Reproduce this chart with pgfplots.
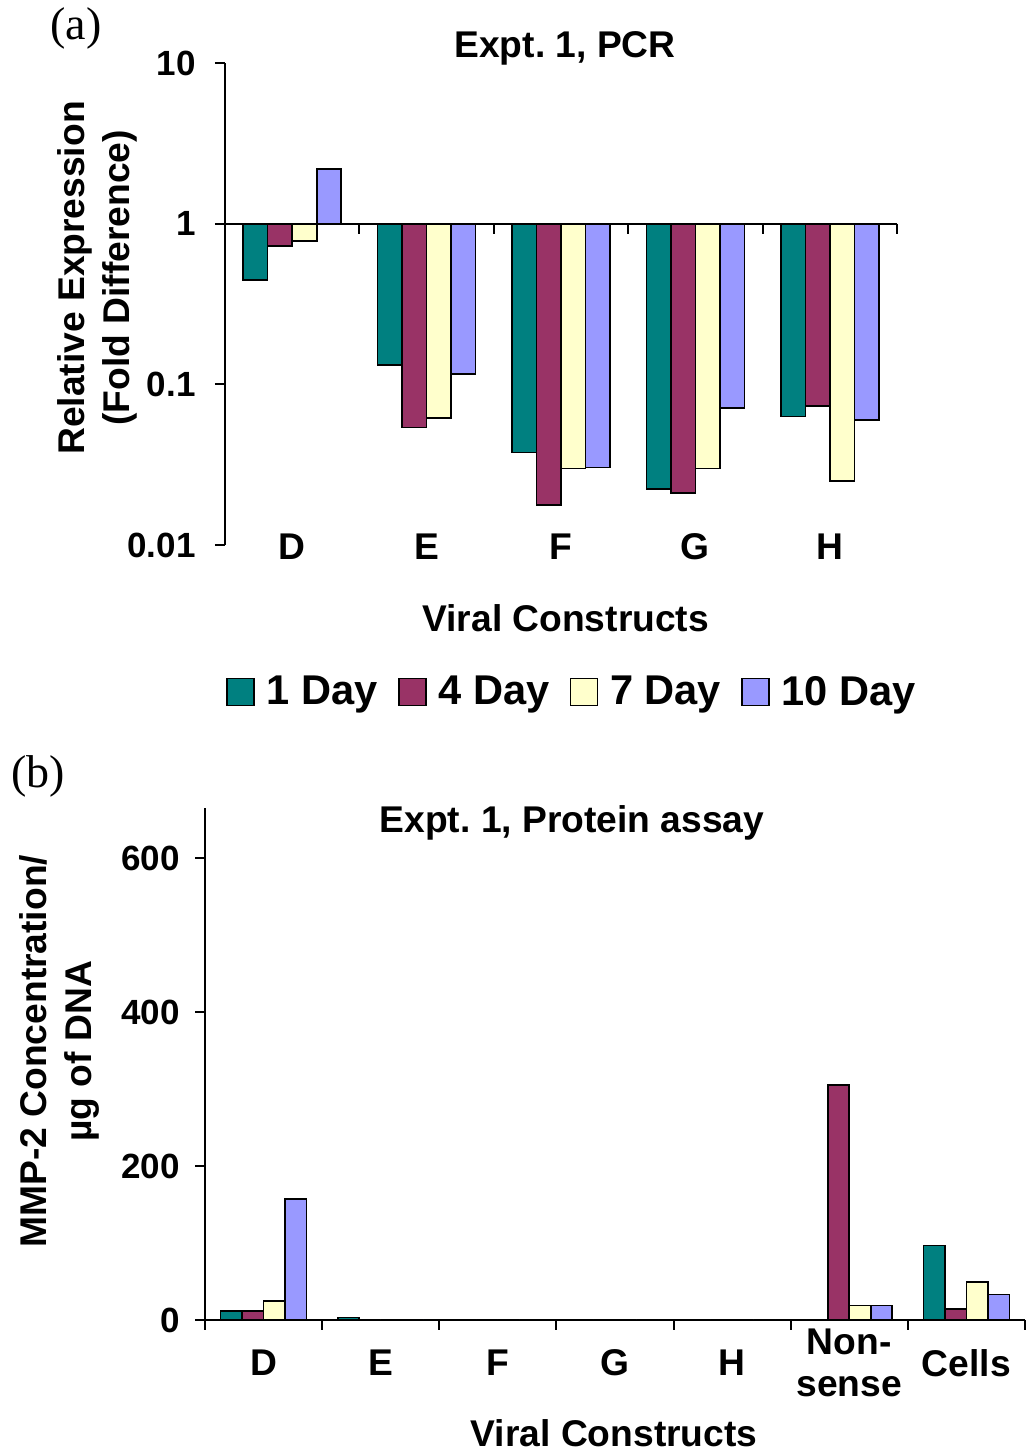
\documentclass[border=0pt]{standalone}
\usepackage{fontspec}
\setmainfont{Liberation Sans}
\newfontfamily\seriffont{Liberation Serif}
\usepackage{pgfplots}
\pgfplotsset{compat=1.18}
\definecolor{cA}{RGB}{0,128,128}
\definecolor{cB}{RGB}{153,51,102}
\definecolor{cC}{RGB}{255,255,204}
\definecolor{cD}{RGB}{153,153,255}
\newcommand\fa{\fontsize{18.6}{22.5}\selectfont\bfseries}
\newcommand\ft{\fontsize{17.5}{20}\selectfont\bfseries}
\pgfplotsset{
  sq/.style={fill=#1, draw=black, line width=0.8pt,
    legend image code/.code={\draw[fill=#1, draw=black, line width=0.8pt] (0pt,-6.75pt) rectangle (13.5pt,6.75pt);}},
  common/.style={
    scale only axis, ybar=0pt, clip=false,
    axis y line=left, axis x line=bottom,
    axis line style={-, line width=1pt},
    tick align=outside, major tick length=5pt, minor tick length=0pt,
    y tick style={black, line width=1pt}, x tick style={draw=none},
    tick label style={font=\ft, inner sep=0pt},
    yticklabel style={anchor=east, xshift=-9.5pt},
    xticklabel style={font=\fa, anchor=center, align=center},
    title style={font=\fa, anchor=center, yshift=-7.5pt},
    xlabel style={font=\fa, anchor=center},
    ylabel style={font=\fa, anchor=center, align=center},
  }
}
\begin{document}
\begin{tikzpicture}[x=1pt,y=1pt]
\path[use as bounding box] (0,0) rectangle (512.5,726);
\node[font=\seriffont\fontsize{23}{23}\selectfont] at (38,712) {(a)};
\node[font=\seriffont\fontsize{23}{23}\selectfont] at (19,338) {(b)};

% Panel (a)
\begin{axis}[common,
  at={(112.5pt,453.5pt)}, anchor=south west,
  width=336pt, height=241pt,
  ymode=log, ymin=0.01, ymax=10, xmin=-0.5, xmax=4.5,
  bar width=12.25pt,
  x axis line style={draw=none},
  xtick={0,1,2,3,4}, xticklabels={D,E,F,G,H},
  xticklabel style={yshift=4.25pt},
  ytick={0.01,0.1,1,10}, yticklabels={0.01,0.1,1,10},
  title={Expt.\ 1, PCR}, title style={at={(axis description cs:0.506,1.037)}},
  xlabel={Viral Constructs}, xlabel style={at={(axis description cs:0.507,-0.151)}},
  ylabel={Relative Expression\\(Fold Difference)},
  ylabel style={at={(axis description cs:-0.1905,0.554)}},
  legend columns=4,
  legend style={at={(axis description cs:0.518,-0.305)}, anchor=center, draw=none,
    font=\fontsize{20.8}{24}\selectfont\bfseries, column sep=0pt,
    /tikz/every odd column/.append style={column sep=4pt},
    /tikz/every even column/.append style={column sep=8pt}},
]
\addplot[sq=cA] coordinates {(0,0.446) (1,0.1315) (2,0.0376) (3,0.0224) (4,0.0630)};
\addplot[sq=cB] coordinates {(0,0.726) (1,0.0538) (2,0.0177) (3,0.0210) (4,0.0731)};
\addplot[sq=cC] coordinates {(0,0.780) (1,0.0615) (2,0.0299) (3,0.0299) (4,0.0250)};
\addplot[sq=cD] coordinates {(0,2.18) (1,0.1156) (2,0.0303) (3,0.0713) (4,0.0598)};
\legend{1 Day,4 Day,7 Day,10 Day}
\draw[line width=1pt] (axis cs:-0.5,1) -- (axis cs:4.5,1);
\pgfplotsinvokeforeach{0.5,1.5,2.5,3.5,4.5}{\draw[line width=1pt] (axis cs:#1,1) -- ++(0pt,-5pt);}
\end{axis}

% Panel (b)
\begin{axis}[common,
  at={(102.5pt,66pt)}, anchor=south west,
  width=410pt, height=256pt,
  ymin=0, ymax=665, xmin=-0.5, xmax=6.5,
  bar width=10.75pt,
  xtick={0,1,2,3,4,5,6}, xticklabels={D,E,F,G,H,{Non-\\sense},Cells},
  xticklabel style={yshift=-16.5pt, font=\fontsize{18.6}{21}\selectfont\bfseries},
  ytick={0,200,400,600}, yticklabels={0,200,400,600},
  yticklabel style={xshift=2pt},
  title={Expt.\ 1, Protein assay}, title style={at={(axis description cs:0.4476,0.977)}},
  xlabel={Viral Constructs}, xlabel style={at={(axis description cs:0.499,-0.2205)}},
  ylabel={MMP-2 Concentration/\\µg of DNA},
  ylabel style={at={(axis description cs:-0.1774,0.525)}},
]
\addplot[sq=cA] coordinates {(0,12) (1,3) (2,0) (3,0) (4,0) (5,0) (6,97)};
\addplot[sq=cB] coordinates {(0,12) (1,0) (2,0) (3,0) (4,0) (5,305) (6,14)};
\addplot[sq=cC] coordinates {(0,24.7) (1,0) (2,0) (3,0) (4,0) (5,19) (6,49)};
\addplot[sq=cD] coordinates {(0,157) (1,0) (2,0) (3,0) (4,0) (5,19) (6,33)};
\pgfplotsinvokeforeach{-0.5,0.5,1.5,2.5,3.5,4.5,5.5,6.5}{\draw[line width=1pt] (axis cs:#1,0) -- ++(0pt,-5pt);}
\end{axis}
\end{tikzpicture}
\end{document}
